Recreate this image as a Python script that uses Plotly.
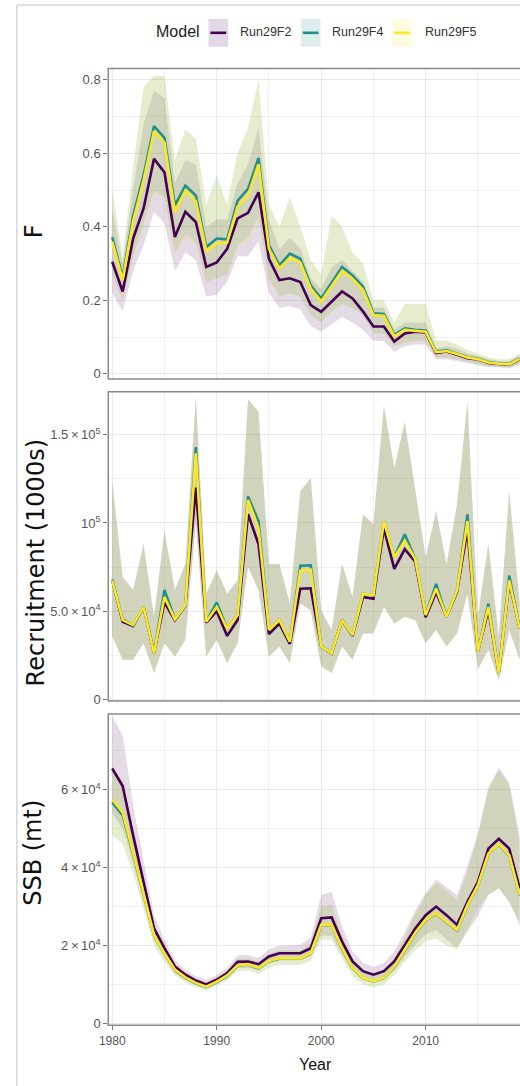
import plotly.graph_objects as go

years = list(range(1980, 2020))
models = ["Run29F2", "Run29F4", "Run29F5"]
colors = {"Run29F2": "#440154", "Run29F4": "#21908C", "Run29F5": "#FDE725"}
fills = {"Run29F2": "rgba(68,1,84,0.14)", "Run29F4": "rgba(33,144,140,0.14)", "Run29F5": "rgba(253,231,37,0.16)"}

# ---- F ----
F2 = [0.305,0.224,0.368,0.45,0.585,0.548,0.372,0.441,0.413,0.291,0.303,0.34,0.423,0.438,0.494,0.313,0.255,0.26,0.25,0.187,0.169,0.196,0.224,0.205,0.17,0.129,0.129,0.088,0.11,0.115,0.113,0.057,0.061,0.052,0.043,0.039,0.03,0.027,0.025,0.039]
F4 = [0.372,0.262,0.43,0.54,0.674,0.642,0.458,0.512,0.485,0.345,0.368,0.366,0.471,0.503,0.587,0.35,0.295,0.327,0.313,0.241,0.205,0.249,0.291,0.268,0.237,0.165,0.163,0.106,0.124,0.12,0.118,0.061,0.064,0.055,0.046,0.041,0.032,0.029,0.027,0.042]
F5 = [0.36,0.255,0.415,0.525,0.66,0.628,0.44,0.498,0.47,0.335,0.355,0.357,0.455,0.485,0.57,0.34,0.287,0.315,0.303,0.232,0.197,0.24,0.28,0.259,0.228,0.16,0.158,0.102,0.12,0.117,0.115,0.059,0.062,0.054,0.045,0.04,0.031,0.028,0.026,0.041]
F2_lo = [0.22,0.17,0.28,0.35,0.44,0.41,0.28,0.33,0.31,0.21,0.215,0.25,0.32,0.32,0.36,0.22,0.18,0.185,0.175,0.13,0.115,0.135,0.155,0.14,0.12,0.09,0.09,0.06,0.075,0.08,0.08,0.04,0.04,0.035,0.03,0.025,0.018,0.018,0.015,0.025]
F2_hi = [0.45,0.30,0.50,0.68,0.77,0.75,0.52,0.58,0.57,0.40,0.42,0.42,0.52,0.57,0.67,0.42,0.34,0.37,0.34,0.26,0.23,0.29,0.31,0.28,0.25,0.18,0.18,0.12,0.14,0.14,0.14,0.07,0.075,0.07,0.055,0.05,0.04,0.035,0.035,0.05]
F4_lo = [0.27,0.20,0.32,0.41,0.50,0.48,0.33,0.38,0.36,0.25,0.26,0.27,0.35,0.37,0.43,0.26,0.21,0.22,0.21,0.16,0.14,0.17,0.19,0.18,0.16,0.11,0.11,0.075,0.085,0.09,0.09,0.045,0.045,0.04,0.033,0.028,0.02,0.02,0.018,0.028]
F4_hi = [0.50,0.32,0.56,0.78,0.81,0.81,0.58,0.665,0.64,0.46,0.54,0.46,0.60,0.67,0.80,0.46,0.40,0.48,0.40,0.31,0.27,0.43,0.40,0.33,0.30,0.20,0.20,0.14,0.19,0.19,0.19,0.09,0.09,0.08,0.065,0.055,0.045,0.04,0.04,0.055]
F5_lo = [0.27,0.20,0.31,0.40,0.49,0.47,0.32,0.37,0.35,0.25,0.26,0.265,0.34,0.36,0.42,0.255,0.21,0.22,0.21,0.16,0.14,0.17,0.19,0.18,0.16,0.11,0.11,0.073,0.085,0.088,0.088,0.044,0.045,0.04,0.033,0.028,0.02,0.02,0.018,0.028]
F5_hi = [0.50,0.32,0.56,0.78,0.81,0.81,0.58,0.66,0.64,0.46,0.53,0.46,0.60,0.67,0.80,0.46,0.40,0.48,0.40,0.31,0.27,0.43,0.40,0.33,0.30,0.20,0.20,0.14,0.19,0.19,0.19,0.09,0.09,0.08,0.065,0.055,0.045,0.04,0.04,0.055]

# ---- Recruitment ----
R2 = [67400,44000,41500,52400,26500,55000,44800,53000,120000,43500,50000,36000,45000,105000,88000,37000,43000,31500,62700,63000,30000,26000,45000,36000,58000,57000,97000,74000,85200,78000,46500,60800,46800,61000,96400,27000,50600,15000,66500,40200]
R4 = [68000,45300,42100,52400,26200,62000,45300,53400,143000,44000,55000,40200,47700,115000,101000,39500,45000,32700,75800,76000,30000,26200,45000,36500,59900,59000,101000,80500,93600,79600,47800,65500,46800,61800,104800,27100,54300,15000,70200,40200]
R5 = [67400,44900,42100,52400,26200,58000,45300,53400,139500,44000,52400,40200,47700,113000,97000,39500,45000,32700,73000,73500,30000,26200,45000,36500,59900,59000,101000,80500,89900,79600,47800,62700,46800,61800,101000,27100,52400,15000,67400,40200]
R_lo = [35600,22500,22500,31800,15000,31800,24300,33700,100000,24300,33700,20600,31800,75000,62000,24300,30000,20600,54300,50600,18700,15000,30000,22500,37400,37400,52400,43000,46800,44900,31800,39300,30000,37400,59900,16900,28100,11200,39300,22500]
R_hi = [123600,69300,61800,88000,46800,95500,62000,76700,171300,59900,73000,59900,67400,170000,163000,76700,76700,54300,118000,125400,50600,39300,76700,58000,104800,99200,166600,131000,157300,119800,80500,106700,76700,110400,168500,46800,88000,35600,118000,54300]

# ---- SSB ----
S2 = [65500,61000,48300,36300,24400,19300,14600,12500,11000,10000,11200,12900,15800,15900,15200,17200,18000,18000,18000,19300,27000,27200,21000,15900,13400,12500,13400,15900,20200,24400,27800,30000,27800,25300,31200,36300,44900,47400,44900,34700]
S4 = [56800,53500,43700,32800,22600,17900,13700,11700,10300,9300,10600,12200,14800,15100,14100,15900,16600,16600,16600,17900,25200,25200,19200,14100,11600,10700,11600,14500,18800,23100,26500,28200,26000,23900,30300,35400,43500,46000,43100,32900]
S5 = [57600,54200,44000,33000,22700,18000,13800,11800,10400,9400,10700,12300,14900,15200,14200,16000,16700,16700,16700,18000,25300,25300,19300,14200,11700,10800,11700,14600,18900,23200,26600,28300,26100,24000,30400,35500,43600,46100,43200,33000]
S2_lo = [54000,50000,41000,31500,21500,17200,13000,11200,9900,9000,10100,11600,14200,14300,13700,15500,16200,16200,16200,17200,22500,22500,17700,13500,11400,10600,11400,13500,17100,20200,22800,24000,21500,19500,23500,27500,33000,34700,31200,25000]
S2_hi = [79000,74000,56000,41500,27800,21500,16300,13800,12100,11200,12400,14300,17500,17600,16800,19000,20000,20000,20200,22000,33000,33800,25000,18500,15500,14500,15500,18500,23500,29000,33500,37000,35000,33000,40500,49000,60000,65700,62000,48000]
S4_lo = [48300,46000,38500,29000,20000,15800,12300,10500,9300,8400,9600,11000,13400,13600,12700,14300,15000,15000,15000,16000,21500,21500,16500,12200,10000,9200,10000,12400,15800,18800,21000,21800,20000,19000,24400,29500,33000,34700,31200,26100]
S4_hi = [66000,62000,50000,37500,25500,20000,15200,13000,11500,10400,11700,13500,16500,16700,15700,17800,18700,18700,18800,20500,30000,30500,22500,16500,13500,12500,13500,16800,22000,28000,33000,36000,34000,31500,39000,48000,61000,65000,61000,46000]
S5_lo = [48800,46500,38800,29200,20100,15900,12400,10600,9400,8500,9700,11100,13500,13700,12800,14400,15100,15100,15100,16100,21600,21600,16600,12300,10100,9300,10100,12500,15900,18900,21100,21900,20100,19100,24500,29600,33100,34800,31300,26200]
S5_hi = [66500,62500,50300,37700,25600,20100,15300,13100,11600,10500,11800,13600,16600,16800,15800,17900,18800,18800,18900,20600,30100,30600,22600,16600,13600,12600,13600,16900,22100,28100,33100,36100,34100,31600,39100,48100,61000,65000,61000,46100]

F_vals = {"Run29F2": (F2, F2_lo, F2_hi), "Run29F4": (F4, F4_lo, F4_hi), "Run29F5": (F5, F5_lo, F5_hi)}
R_vals = {"Run29F2": (R2, R_lo, R_hi), "Run29F4": (R4, R_lo, R_hi), "Run29F5": (R5, R_lo, R_hi)}
S_vals = {"Run29F2": (S2, S2_lo, S2_hi), "Run29F4": (S4, S4_lo, S4_hi), "Run29F5": (S5, S5_lo, S5_hi)}

panels = [("x", "y", F_vals), ("x2", "y2", R_vals), ("x3", "y3", S_vals)]

W, H = 520, 1086
fig = go.Figure()
for xa, ya, vals in panels:
    for m in models:
        v, lo, hi = vals[m]
        fig.add_trace(go.Scatter(x=years, y=lo, xaxis=xa, yaxis=ya, mode="lines",
                                 line=dict(width=0, color="rgba(0,0,0,0)"), showlegend=False, hoverinfo="skip"))
        fig.add_trace(go.Scatter(x=years, y=hi, xaxis=xa, yaxis=ya, mode="lines", fill="tonexty",
                                 fillcolor=fills[m], line=dict(width=0, color="rgba(0,0,0,0)"),
                                 showlegend=False, hoverinfo="skip"))
    for m in models:
        v, lo, hi = vals[m]
        fig.add_trace(go.Scatter(x=years, y=v, xaxis=xa, yaxis=ya, mode="lines",
                                 line=dict(width=2.6, color=colors[m]), name=m, showlegend=False))

def py(px):
    return 1 - px / H

def pxx(px):
    return px / W

xdom = [pxx(101), 1.0]
ydoms = [[py(381), py(69)], [py(705), py(394)], [py(1031), py(718)]]
xrange_ = [1979.62, 2019.03]

grid = "#e9e9e9"
tickfont = dict(family="Liberation Sans, Arial, sans-serif", size=13, color="#555555")

layout = dict(width=W, height=H, margin=dict(l=0, r=0, t=0, b=0),
              paper_bgcolor="white", plot_bgcolor="white", showlegend=False)

for i, (xa, ya, _) in enumerate(panels):
    xkey = "xaxis" if i == 0 else f"xaxis{i+1}"
    ykey = "yaxis" if i == 0 else f"yaxis{i+1}"
    layout[xkey] = dict(domain=xdom, anchor=ya, range=xrange_, tickvals=[1980, 1990, 2000, 2010],
                        showticklabels=(i == 2), ticks="outside" if i == 2 else "", ticklen=4,
                        tickcolor="#777777", tickfont=dict(family="Liberation Sans, Arial, sans-serif", size=12, color="#555555"),
                        showgrid=True, gridcolor=grid, gridwidth=1, zeroline=False, showline=False,
                        minor=dict(tickvals=[1985, 1995, 2005, 2015], showgrid=True, gridcolor="#f1f1f1", gridwidth=0.8))
    layout[ykey] = dict(domain=ydoms[i], anchor=xa, ticks="outside", ticklen=4, tickcolor="#777777",
                        tickfont=tickfont, showgrid=True, gridcolor=grid, gridwidth=1, zeroline=False, showline=False)

layout["yaxis"].update(range=[-0.0135, 0.83], tickvals=[0, 0.2, 0.4, 0.6, 0.8],
                       ticktext=["0", "0.2", "0.4", "0.6", "0.8"],
                       minor=dict(tickvals=[0.1, 0.3, 0.5, 0.7], showgrid=True, gridcolor="#f1f1f1", gridwidth=0.8))
layout["yaxis2"].update(range=[-950, 174300], tickvals=[0, 50000, 100000, 150000],
                        ticktext=["0", "5.0\u2009×\u200910<sup>4</sup>", "10<sup>5</sup>", "1.5\u2009×\u200910<sup>5</sup>"],
                        minor=dict(tickvals=[25000, 75000, 125000], showgrid=True, gridcolor="#f1f1f1", gridwidth=0.8))
layout["yaxis3"].update(range=[-510, 79490], tickvals=[0, 20000, 40000, 60000],
                        ticktext=["0", "2\u2009×\u200910<sup>4</sup>", "4\u2009×\u200910<sup>4</sup>", "6\u2009×\u200910<sup>4</sup>"],
                        minor=dict(tickvals=[10000, 30000, 50000, 70000], showgrid=True, gridcolor="#f1f1f1", gridwidth=0.8))

shapes = []
# panel borders (right side falls outside the page)
for d in ydoms:
    shapes.append(dict(type="rect", xref="paper", yref="paper", x0=xdom[0], x1=1.03, y0=d[0], y1=d[1],
                       line=dict(color="#8a8a8a", width=1.5), fillcolor="rgba(0,0,0,0)", layer="above"))
# outer frame
shapes.append(dict(type="line", xref="paper", yref="paper", x0=pxx(8), x1=pxx(8), y0=py(5), y1=-0.01,
                   line=dict(color="#d6d6d6", width=1.5)))
shapes.append(dict(type="line", xref="paper", yref="paper", x0=pxx(8), x1=1.01, y0=py(5), y1=py(5),
                   line=dict(color="#d6d6d6", width=1.5)))

# legend keys
key_x = [(203, 223), (297, 317), (390, 410)]
key_fill = {"Run29F2": "rgba(68,1,84,0.15)", "Run29F4": "rgba(33,144,140,0.15)", "Run29F5": "rgba(253,231,37,0.15)"}
annotations = []
for (x0, x1), m in zip(key_x, models):
    shapes.append(dict(type="rect", xref="paper", yref="paper", x0=pxx(x0), x1=pxx(x1), y0=py(47), y1=py(19),
                       line=dict(width=0), fillcolor=key_fill[m]))
    shapes.append(dict(type="line", xref="paper", yref="paper", x0=pxx(x0 + 2), x1=pxx(x1 - 2), y0=py(33), y1=py(33),
                       line=dict(color=colors[m], width=2.6)))
label_x = [233, 327, 421]
for lx, m in zip(label_x, models):
    annotations.append(dict(text=m, xref="paper", yref="paper", x=pxx(lx), y=py(32), xanchor="left", yanchor="middle",
                            showarrow=False, font=dict(family="Liberation Sans, Arial, sans-serif", size=12.5, color="#333333")))
annotations.append(dict(text="Model", xref="paper", yref="paper", x=pxx(172), y=py(32), xanchor="center", yanchor="middle",
                        showarrow=False, font=dict(family="Liberation Sans, Arial, sans-serif", size=16, color="#222222")))

# y titles
titles = [("F", 25, 233), ("Recruitment (1000s)", 27, 566), ("SSB (mt)", 25, 858)]
for t, tx, ty in titles:
    annotations.append(dict(text=t, xref="paper", yref="paper", x=pxx(tx), y=py(ty), xanchor="center", yanchor="middle",
                            textangle=-90, showarrow=False,
                            font=dict(family="DejaVu Sans, sans-serif", size=24, color="#111111")))
annotations.append(dict(text="Year", xref="paper", yref="paper", x=pxx(312), y=py(1070), xanchor="center", yanchor="middle",
                        showarrow=False, font=dict(family="Liberation Sans, Arial, sans-serif", size=16, color="#111111")))

layout["shapes"] = shapes
layout["annotations"] = annotations
fig.update_layout(**layout)
fig.write_html("out.html", config={"displayModeBar": False})
